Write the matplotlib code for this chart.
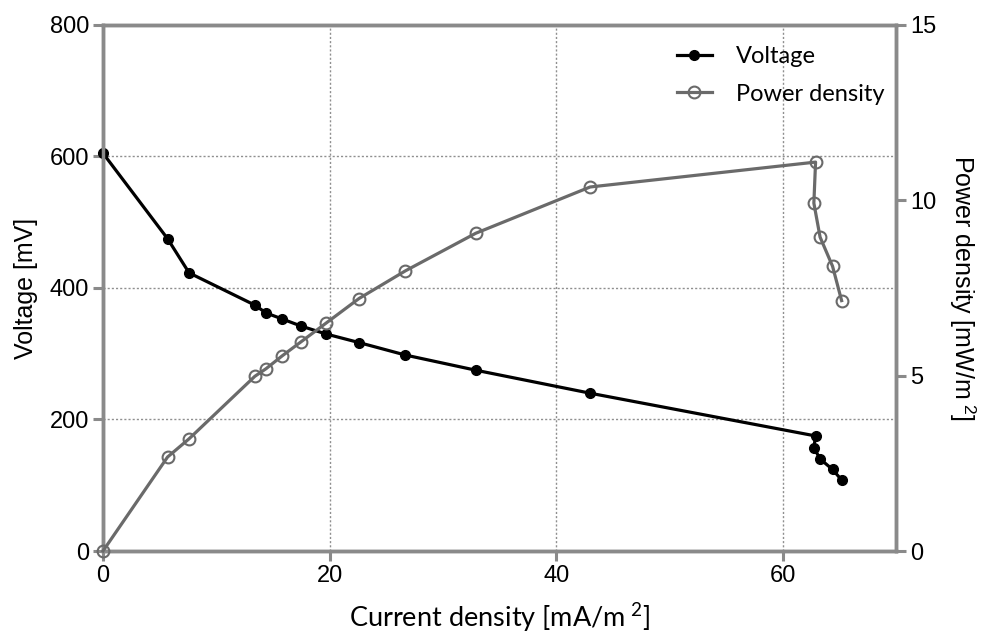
import matplotlib
matplotlib.use("Agg")
import matplotlib.pyplot as plt

# Data
current = [0, 5.7, 7.6, 13.4, 14.4, 15.8, 17.5, 19.7, 22.6, 26.7, 32.9, 43.0, 62.9, 62.75, 63.3, 64.4, 65.2]
voltage = [605, 475, 423, 374, 362, 353, 342, 330, 317, 298, 275, 240, 175, 157, 140, 124, 108]
power = [0, 2.68, 3.2, 4.98, 5.2, 5.56, 5.97, 6.5, 7.2, 7.99, 9.06, 10.38, 11.09, 9.92, 8.95, 8.12, 7.14]

x_ticks = [0, 20, 40, 60]
v_ticks = [0, 200, 400, 600, 800]
p_ticks = [0, 5, 10, 15]

gray = "#8a8a8a"
plt.rcParams["mathtext.fontset"] = "custom"
plt.rcParams["mathtext.rm"] = "Lato"
plt.rcParams["mathtext.it"] = "Lato"
plt.rcParams["mathtext.sf"] = "Liberation Sans"

tick_font = {"family": "Liberation Sans", "size": 17}
arial_label = {"family": "Liberation Sans", "size": 18}
calibri_label = {"family": "Lato", "size": 19.5}

fig = plt.figure(figsize=(9.95, 6.37), dpi=100)
ax = fig.add_axes([0.1035, 0.135, 0.797, 0.8258])
ax2 = ax.twinx()

# Voltage
l1, = ax.plot(current, voltage, color="black", lw=2.3, marker="o", ms=7,
              mfc="black", mec="black", clip_on=False, zorder=3, label="Voltage")
# Power density
l2, = ax2.plot(current, power, color="#6a6a6a", lw=2.3, marker="o", ms=8.5,
               mfc="none", mec="#6a6a6a", mew=1.5, clip_on=False, zorder=3,
               label="Power density")

ax.set_xlim(0, 70)
ax.set_ylim(0, 800)
ax2.set_ylim(0, 15)

ax.set_xticks(x_ticks)
ax.set_yticks(v_ticks)
ax2.set_yticks(p_ticks)
ax.set_xticklabels([str(t) for t in x_ticks], fontdict=tick_font)
ax.set_yticklabels([str(t) for t in v_ticks], fontdict=tick_font)
ax2.set_yticklabels([str(t) for t in p_ticks], fontdict=tick_font)

ax.grid(True, color="#8f8f8f", linestyle=(0, (1.5, 1.5)), linewidth=1.0)
ax.set_axisbelow(True)

for a in (ax, ax2):
    for s in a.spines.values():
        s.set_color(gray)
        s.set_linewidth(2.5)
    a.tick_params(direction="out", length=7, width=2.2, color=gray, pad=3)

ax.set_xlabel(r"Current density [mA/m$^{\ 2}$]", fontdict=calibri_label, labelpad=10)
ax.set_ylabel("Voltage [mV]", fontdict=arial_label, labelpad=8)
ax2.set_ylabel(r"Power density [mW/m$^{\ \mathsf{2}}$]", fontdict=arial_label,
               rotation=270, labelpad=30)

ax2.legend(handles=[l1, l2], loc="upper right", bbox_to_anchor=(1.012, 1.0),
           frameon=False, prop={"family": "Lato", "size": 17},
           handlelength=1.5, handletextpad=1.0, labelspacing=0.7)

fig.savefig("out.png", dpi=100)
